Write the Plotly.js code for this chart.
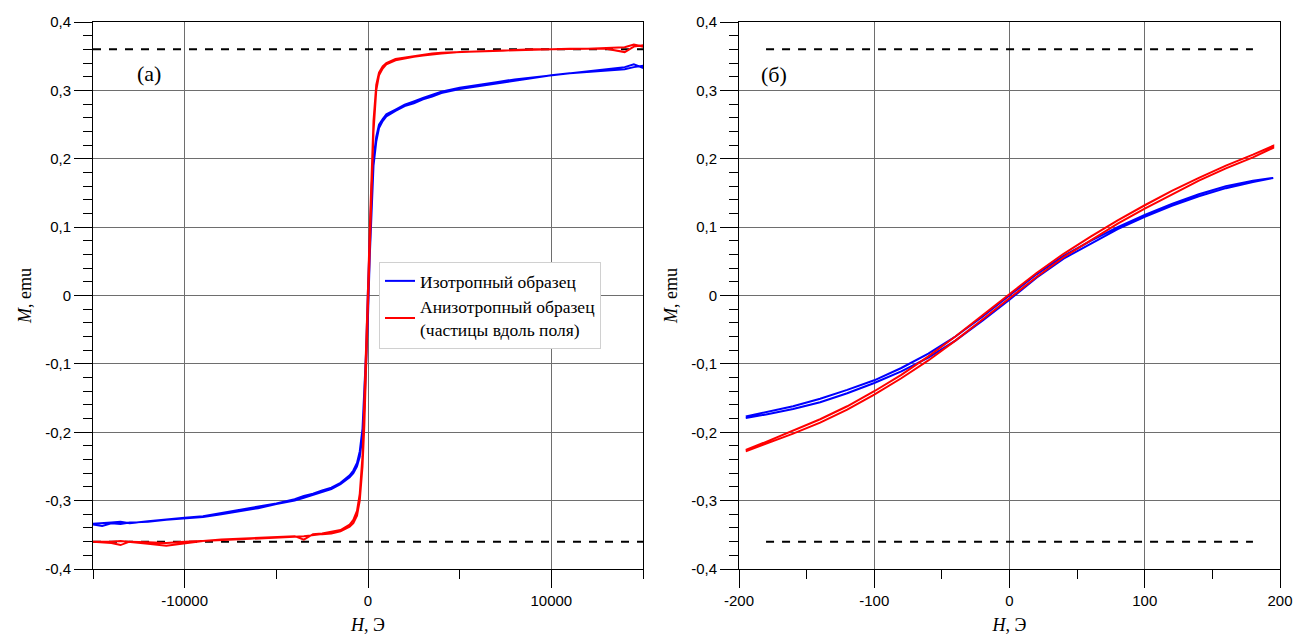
<!DOCTYPE html>
<html>
<head>
<meta charset="utf-8">
<script src="https://cdn.plot.ly/plotly-3.0.1.min.js"></script>
<style>html,body{margin:0;padding:0;background:#fff;}#chart{width:1301px;height:637px;}</style>
</head>
<body>
<div id="chart"></div>
<script>
// ---- Left panel (a): field H, Oe ----
const hLeft = [-15000,-14500,-14000,-13500,-13000,-12000,-11000,-10000,-9000,-8000,-7000,-6000,-5000,-4000,-3500,-3000,-2500,-2000,-1500,-1000,-800,-600,-450,-300,-200,-100,0,100,200,300,450,600,800,1000,1500,2000,2500,3000,3500,4000,5000,6000,7000,8000,9000,10000,11000,12000,13000,14000,14500,15000];
const isoLeftUp = [-0.335,-0.337,-0.333,-0.334,-0.332,-0.331,-0.328,-0.326,-0.324,-0.320,-0.316,-0.311,-0.305,-0.300,-0.296,-0.292,-0.288,-0.283,-0.276,-0.266,-0.260,-0.250,-0.236,-0.205,-0.165,-0.100,-0.030,0.060,0.140,0.190,0.225,0.245,0.255,0.262,0.270,0.277,0.281,0.287,0.291,0.296,0.302,0.306,0.310,0.315,0.319,0.322,0.325,0.327,0.329,0.331,0.334,0.336];
const isoLeftDown = [-0.334,-0.333,-0.332,-0.331,-0.333,-0.330,-0.327,-0.325,-0.323,-0.319,-0.314,-0.309,-0.304,-0.298,-0.293,-0.290,-0.285,-0.281,-0.274,-0.263,-0.256,-0.245,-0.228,-0.195,-0.150,-0.080,0.010,0.095,0.160,0.200,0.232,0.250,0.258,0.265,0.272,0.279,0.284,0.289,0.294,0.298,0.304,0.308,0.312,0.316,0.320,0.323,0.326,0.328,0.331,0.334,0.338,0.333];
const anisoLeftUp = [-0.360,-0.361,-0.362,-0.365,-0.360,-0.361,-0.362,-0.360,-0.359,-0.358,-0.357,-0.356,-0.355,-0.353,-0.352,-0.350,-0.349,-0.348,-0.345,-0.338,-0.333,-0.322,-0.300,-0.250,-0.190,-0.100,-0.010,0.080,0.170,0.240,0.300,0.322,0.332,0.338,0.344,0.347,0.349,0.351,0.353,0.354,0.356,0.357,0.358,0.359,0.359,0.360,0.361,0.361,0.362,0.363,0.367,0.364];
const anisoLeftDown = [-0.360,-0.360,-0.360,-0.359,-0.361,-0.363,-0.366,-0.363,-0.359,-0.357,-0.356,-0.355,-0.353,-0.352,-0.357,-0.349,-0.348,-0.346,-0.343,-0.335,-0.328,-0.315,-0.290,-0.235,-0.170,-0.080,0.010,0.100,0.190,0.255,0.308,0.326,0.335,0.340,0.346,0.349,0.350,0.352,0.354,0.355,0.357,0.358,0.358,0.359,0.360,0.360,0.360,0.361,0.361,0.356,0.364,0.366];

// ---- Right panel (б): low-field region ----
const hRight = [-195,-180,-160,-140,-120,-100,-80,-60,-40,-20,0,20,40,60,80,100,120,140,160,180,195];
const isoRightUp = [-0.179,-0.174,-0.166,-0.156,-0.143,-0.128,-0.111,-0.091,-0.066,-0.037,-0.006,0.026,0.054,0.076,0.097,0.115,0.131,0.145,0.157,0.166,0.172];
const isoRightDown = [-0.177,-0.171,-0.162,-0.151,-0.138,-0.124,-0.106,-0.085,-0.060,-0.031,0.000,0.031,0.058,0.080,0.100,0.118,0.134,0.148,0.160,0.168,0.172];
const anisoRightUp = [-0.228,-0.217,-0.202,-0.186,-0.167,-0.145,-0.121,-0.095,-0.066,-0.035,-0.004,0.027,0.056,0.081,0.105,0.127,0.148,0.168,0.186,0.202,0.216];
const anisoRightDown = [-0.226,-0.214,-0.198,-0.181,-0.162,-0.140,-0.116,-0.089,-0.060,-0.029,0.002,0.033,0.061,0.086,0.110,0.132,0.153,0.172,0.190,0.206,0.219];

// saturation level (dashed)
const satLevel = 0.36;
const satLeftX = [-15000, 15000];
const satRightX = [-180, 180];

// tick labels
const yTickVals = [-0.4,-0.3,-0.2,-0.1,0,0.1,0.2,0.3,0.4];
const yTickText = ['-0,4','-0,3','-0,2','-0,1','0','0,1','0,2','0,3','0,4'];
const xLeftTickVals = [-10000,0,10000];
const xLeftTickText = ['-10000','0','10000'];
const xLeftMinor = [-15000,-5000,5000,15000];
const xRightTickVals = [-200,-100,0,100,200];
const xRightTickText = ['-200','-100','0','100','200'];
const xRightMinor = [-150,-50,50,150];

const seriesNames = ['Изотропный образец', 'Анизотропный образец<br>(частицы вдоль поля)'];

function loop(h, up, down) {
  const x = h.slice().concat(h.slice().reverse());
  const y = up.slice().concat(down.slice().reverse());
  return {x, y};
}

const lb = loop(hLeft, isoLeftUp, isoLeftDown);
const lr = loop(hLeft, anisoLeftUp, anisoLeftDown);
const rb = loop(hRight, isoRightUp, isoRightDown);
const rr = loop(hRight, anisoRightUp, anisoRightDown);

const dashStyle = {color:'#000', width:2, dash:'8px,8px'};

const traces = [
  {x: satLeftX, y:[satLevel,satLevel], xaxis:'x', yaxis:'y', mode:'lines', line:dashStyle, showlegend:false, hoverinfo:'skip'},
  {x: satLeftX, y:[-satLevel,-satLevel], xaxis:'x', yaxis:'y', mode:'lines', line:dashStyle, showlegend:false, hoverinfo:'skip'},
  {x: satRightX, y:[satLevel,satLevel], xaxis:'x2', yaxis:'y2', mode:'lines', line:dashStyle, showlegend:false, hoverinfo:'skip'},
  {x: satRightX, y:[-satLevel,-satLevel], xaxis:'x2', yaxis:'y2', mode:'lines', line:dashStyle, showlegend:false, hoverinfo:'skip'},
  {x: lb.x, y: lb.y, xaxis:'x', yaxis:'y', mode:'lines', name: seriesNames[0], line:{color:'#0000ff', width:2}},
  {x: lr.x, y: lr.y, xaxis:'x', yaxis:'y', mode:'lines', name: seriesNames[1], line:{color:'#ff0000', width:2}},
  {x: rb.x, y: rb.y, xaxis:'x2', yaxis:'y2', mode:'lines', name: seriesNames[0], showlegend:false, line:{color:'#0000ff', width:2}},
  {x: rr.x, y: rr.y, xaxis:'x2', yaxis:'y2', mode:'lines', name: seriesNames[1], showlegend:false, line:{color:'#ff0000', width:2}}
];

const W = 1301, H = 637;
const gridCol = '#6e6e6e';
const tickFont = {family:'"Liberation Sans", Arial, sans-serif', size:15, color:'#000'};
const titleFont = {family:'"Liberation Serif", "Times New Roman", serif', size:18, color:'#000'};

function xAxis(domain, range, tv, tt, minor, anchor) {
  return {
    domain, range, anchor, tickmode:'array', tickvals:tv, ticktext:tt,
    ticks:'outside', ticklen:18, tickwidth:1, tickcolor:'#000',
    showgrid:true, gridcolor:gridCol, gridwidth:1, zeroline:false,
    showline:true, linecolor:'#000', linewidth:1, mirror:true,
    tickfont:tickFont, automargin:false,
    minor:{tickmode:'array', tickvals:minor, ticks:'outside', ticklen:9, tickcolor:'#000', tickwidth:1, showgrid:false},
    title:{text:'<i>H</i>, Э', font:titleFont, standoff:10}
  };
}
function yAxis(domain, anchor) {
  return {
    domain, range:[-0.4,0.4], anchor, tickmode:'array', tickvals:yTickVals, ticktext:yTickText,
    ticks:'outside', ticklen:18, tickwidth:1, tickcolor:'#000',
    showgrid:true, gridcolor:gridCol, gridwidth:1, zeroline:false,
    showline:true, linecolor:'#000', linewidth:1, mirror:true,
    tickfont:tickFont, automargin:false,
    minor:{dtick:0.02, tick0:0, ticks:'outside', ticklen:9, tickcolor:'#000', tickwidth:1, showgrid:false},
    title:{text:'<i>M</i>, emu', font:titleFont, standoff:8}
  };
}

const yDom = [1-569/H, 1-22/H];
const layout = {
  width:W, height:H,
  margin:{l:0, r:0, t:0, b:0},
  paper_bgcolor:'#fff', plot_bgcolor:'#fff',
  showlegend:true,
  legend:{
    x:379/W, y:1-262/H, xanchor:'left', yanchor:'top',
    bgcolor:'#fff', bordercolor:'#d0d0d0', borderwidth:1,
    font:{family:'"Liberation Serif", "Times New Roman", serif', size:17.5, color:'#000'},
    tracegroupgap:2
  },
  xaxis: xAxis([93/W, 643/W], [-15000,15000], xLeftTickVals, xLeftTickText, xLeftMinor, 'y'),
  yaxis: yAxis(yDom, 'x'),
  xaxis2: xAxis([739/W, 1280/W], [-200,200], xRightTickVals, xRightTickText, xRightMinor, 'y2'),
  yaxis2: yAxis(yDom, 'x2'),
  annotations:[
    {text:'(а)', xref:'x', yref:'y', x:-12700, y:0.325, showarrow:false, xanchor:'left', yanchor:'middle',
     font:{family:'"Liberation Serif", "Times New Roman", serif', size:22, color:'#000'}},
    {text:'(б)', xref:'x2', yref:'y2', x:-185, y:0.323, showarrow:false, xanchor:'left', yanchor:'middle',
     font:{family:'"Liberation Serif", "Times New Roman", serif', size:22, color:'#000'}}
  ]
};

Plotly.newPlot('chart', traces, layout, {displayModeBar:false, staticPlot:true});
</script>
</body>
</html>
